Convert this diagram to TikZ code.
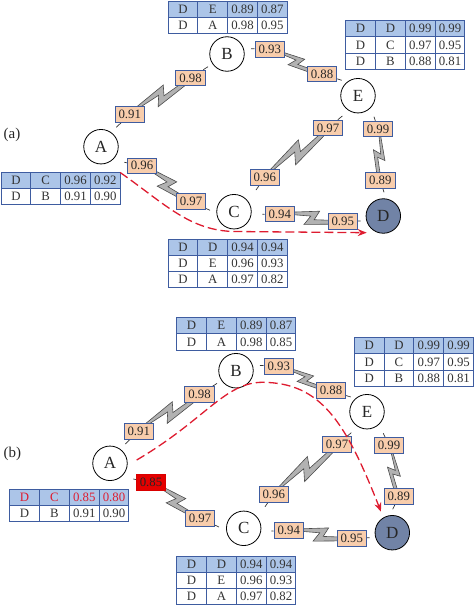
\documentclass[tikz,border=0pt]{standalone}
\usepackage{fontspec}
\setmainfont{Liberation Serif}
\usetikzlibrary{arrows.meta,positioning,calc,backgrounds}

\definecolor{tblBlue}{RGB}{62,92,160}
\definecolor{tblHead}{RGB}{172,197,232}
\definecolor{boxFill}{RGB}{248,205,172}
\definecolor{destFill}{RGB}{113,131,166}
\definecolor{alertRed}{RGB}{222,28,48}

% one table row: name, cell style, x, y, four entries
\newcommand{\tblrow}[8]{%
  \node[#2, anchor=north west] (#1a) at (#3, #4) {#5};
  \node[#2, right=0pt of #1a] (#1b) {#6};
  \node[#2, right=0pt of #1b] (#1c) {#7};
  \node[#2, right=0pt of #1c] (#1d) {#8};
}
% label box with its short stub: name, x, y, value, stub end x, stub end y
\newcommand{\linkbox}[6]{%
  \node[valBox] (#1) at (#2, #3) {#4};
  \coordinate (#1s) at (#5, #6);
  \begin{scope}[on background layer]
    \draw[stub] (#1) -- (#1s);
  \end{scope}
}
% lightning bolt between two label boxes: from, to, size of the jag
\newcommand{\boltlink}[3]{%
  \begin{scope}[on background layer]
    \draw[bolt] ($(#1)!1.5pt!90:(#2)$)
      -- ($(#1)!.62!(#2)!#3pt!90:(#2)$)
      -- ($(#1)!.55!(#2)!1.6pt!-90:(#2)$)
      -- ($(#2)!.8pt!-90:(#1)$)
      -- ($(#2)!2.6pt!90:(#1)$)
      -- ($(#1)!.40!(#2)!#3pt!-90:(#2)$)
      -- ($(#1)!.49!(#2)!1.6pt!90:(#2)$)
      -- ($(#1)!.4pt!90:(#2)$) -- cycle;
  \end{scope}
}

\begin{document}
\begin{tikzpicture}[
    x=1pt, y=-1pt,
    font=\fontsize{12.8}{14}\selectfont,
    cellHead/.style={
        rectangle, draw=tblBlue, line width=0.9pt, fill=tblHead, text=black!80,
        minimum width=29.8pt, minimum height=16.2pt, inner sep=0pt, outer sep=0pt
    },
    cellBody/.style={cellHead, fill=white},
    cellAlert/.style={cellHead, text=alertRed},
    valBox/.style={
        rectangle, draw=tblBlue, line width=0.9pt, fill=boxFill, text=black!85,
        minimum width=29.5pt, minimum height=15.6pt, inner sep=0pt
    },
    alertBox/.style={valBox, draw=red!85!black, fill=red!90!black},
    router/.style={
        circle, draw=black, line width=0.8pt, fill=white, minimum size=34.5pt,
        inner sep=0pt, font=\fontsize{17}{18}\selectfont, text=black!85
    },
    destRouter/.style={router, fill=destFill},
    stub/.style={draw=black!80, line width=0.7pt},
    bolt/.style={draw=black!70, line width=0.6pt, fill=black!30, line join=miter},
    reroute/.style={
        draw=alertRed, line width=1.3pt, dash pattern=on 9pt off 4pt,
        -{Stealth[length=9pt, width=7pt]}
    },
    panelTag/.style={font=\fontsize{15}{16}\selectfont, text=black!85}
]
\useasboundingbox (0, 0) rectangle (474, 605);

% Panel (a)
\node[panelTag] (tagA) at (12, 135) {(a)};

% Routers
\node[router] (aA) at (101, 146.7) {A};
\node[router] (aB) at (227, 54) {B};
\node[router] (aC) at (234, 211.7) {C};
\node[router] (aE) at (358, 95.7) {E};
\node[destRouter] (aD) at (383.3, 216) {D};

% Tables
\tblrow{aBr}{cellHead}{168}{1.2}{D}{E}{0.89}{0.87}
\tblrow{aBs}{cellBody}{168}{17.4}{D}{A}{0.98}{0.95}

\tblrow{aEr}{cellHead}{345.7}{20.7}{D}{D}{0.99}{0.99}
\tblrow{aEs}{cellBody}{345.7}{36.9}{D}{C}{0.97}{0.95}
\tblrow{aEt}{cellBody}{345.7}{53.1}{D}{B}{0.88}{0.81}

\tblrow{aAr}{cellHead}{1}{172.5}{D}{C}{0.96}{0.92}
\tblrow{aAs}{cellBody}{1}{188.7}{D}{B}{0.91}{0.90}

\tblrow{aCr}{cellHead}{168}{239}{D}{D}{0.94}{0.94}
\tblrow{aCs}{cellBody}{168}{255.2}{D}{E}{0.96}{0.93}
\tblrow{aCt}{cellBody}{168}{271.4}{D}{A}{0.97}{0.82}

% Link quality boxes
\linkbox{aAB}{129.7}{114.5}{0.91}{116.3}{127.3}
\linkbox{aBA}{190.5}{78}{0.98}{208}{66.7}
\linkbox{aBE}{269.7}{49.5}{0.93}{251}{48.7}
\linkbox{aEB}{322}{74}{0.88}{341.7}{80.3}
\linkbox{aEC}{328}{128}{0.97}{342.3}{116}
\linkbox{aED}{378}{129}{0.99}{374}{116.7}
\linkbox{aAC}{142}{165.8}{0.96}{124.3}{162.3}
\linkbox{aCA}{191}{201.5}{0.97}{210}{210.3}
\linkbox{aCE}{264.7}{177.7}{0.96}{256}{190}
\linkbox{aDE}{380.3}{180.3}{0.89}{384}{192.3}
\linkbox{aCD}{279.7}{214}{0.94}{262.3}{214.3}
\linkbox{aDC}{342.7}{221.5}{0.95}{360.7}{221}

% Bolts
\boltlink{aAB}{aBA}{8}
\boltlink{aBE}{aEB}{6}
\boltlink{aCE}{aEC}{9}
\boltlink{aED}{aDE}{5.5}
\boltlink{aAC}{aCA}{7.5}
\boltlink{aCD}{aDC}{7.5}

% Reroute
\coordinate (aEnd) at (366.7, 232.7);
\draw[reroute] (aArd.north east) .. controls (165, 204) and (190, 231) .. (235, 231.5) -- (aEnd);

% Panel (b)
\node[panelTag] (tagB) at (12.3, 454) {(b)};

% Routers
\node[router] (bA) at (110, 463.3) {A};
\node[router] (bB) at (236, 370.7) {B};
\node[router] (bC) at (243.7, 528.3) {C};
\node[router] (bE) at (367, 411.7) {E};
\node[destRouter] (bD) at (392.3, 532.7) {D};

% Tables
\tblrow{bBr}{cellHead}{176.7}{317.7}{D}{E}{0.89}{0.87}
\tblrow{bBs}{cellBody}{176.7}{333.9}{D}{A}{0.98}{0.85}

\tblrow{bEr}{cellHead}{354.3}{337.7}{D}{D}{0.99}{0.99}
\tblrow{bEs}{cellBody}{354.3}{353.9}{D}{C}{0.97}{0.95}
\tblrow{bEt}{cellBody}{354.3}{370.1}{D}{B}{0.88}{0.81}

\tblrow{bAr}{cellAlert}{9.7}{489}{D}{C}{0.85}{0.80}
\tblrow{bAs}{cellBody}{9.7}{505.2}{D}{B}{0.91}{0.90}

\tblrow{bCr}{cellHead}{176.7}{556}{D}{D}{0.94}{0.94}
\tblrow{bCs}{cellBody}{176.7}{572.2}{D}{E}{0.96}{0.93}
\tblrow{bCt}{cellBody}{176.7}{588.4}{D}{A}{0.97}{0.82}

% Link quality boxes
\linkbox{bAB}{138.7}{431.2}{0.91}{125.3}{444}
\linkbox{bBA}{199.5}{394.7}{0.98}{217}{383.4}
\linkbox{bBE}{278.7}{366.2}{0.93}{260}{365.4}
\linkbox{bEB}{331}{390.7}{0.88}{350.7}{397}
\linkbox{bEC}{337}{444.7}{0.97}{351.3}{432.7}
\linkbox{bED}{389}{445.7}{0.99}{383.3}{433.3}
\node[alertBox] (bAC) at (151, 482.5) {0.85};
\coordinate (bACs) at (133.3, 479);
\linkbox{bCA}{200}{518.2}{0.97}{219}{527}
\linkbox{bCE}{273.7}{494.4}{0.96}{265}{506.7}
\linkbox{bDE}{398.7}{496.7}{0.89}{392.7}{509.3}
\linkbox{bCD}{288.7}{530.7}{0.94}{271.3}{531}
\linkbox{bDC}{351.7}{538.2}{0.95}{369.7}{537.7}

% Bolts
\begin{scope}[on background layer]
  \draw[stub] (bAC) -- (bACs);
\end{scope}
\boltlink{bAB}{bBA}{8}
\boltlink{bBE}{bEB}{6}
\boltlink{bCE}{bEC}{9}
\boltlink{bED}{bDE}{5.5}
\boltlink{bAC}{bCA}{7.5}
\boltlink{bCD}{bDC}{7.5}

% Reroute
\coordinate (bStart) at (136.7, 460);
\coordinate (bEnd) at (381, 511.7);
\draw[reroute] (bStart) .. controls (205, 420) and (225, 382) .. (263, 382.3)
    .. controls (320, 383) and (345, 420) .. (bEnd);

\end{tikzpicture}
\end{document}
